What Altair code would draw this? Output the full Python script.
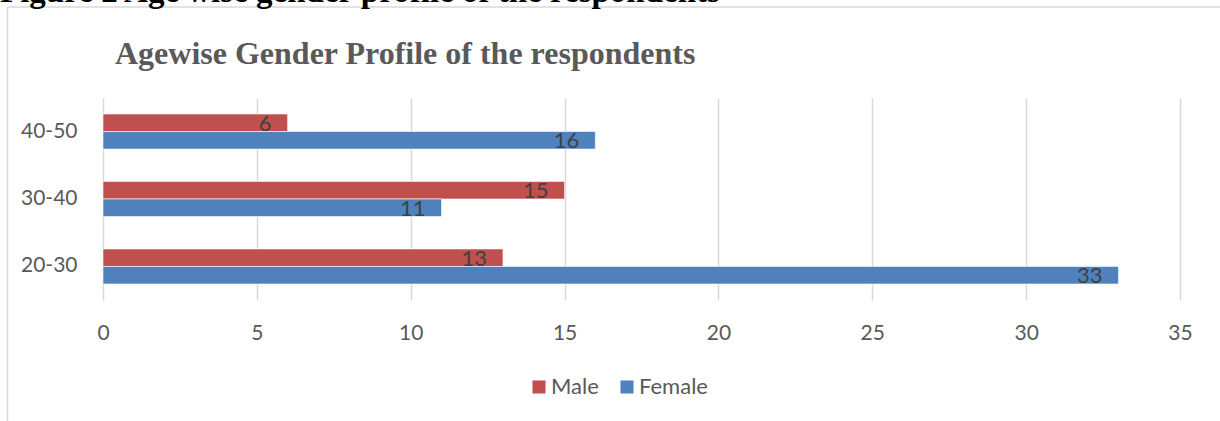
import altair as alt
import pandas as pd

caption = "Figure 2 Age wise gender profile of the respondents"
title = "Agewise Gender Profile of the respondents"
age_groups = ["20-30", "30-40", "40-50"]
male = [13, 15, 6]
female = [33, 11, 16]
series = ["Male", "Female"]
colors = ["#C0504D", "#4F81BD"]
x_ticks = [0, 5, 10, 15, 20, 25, 30, 35]

rows = []
for a, m, f in zip(age_groups, male, female):
    rows.append({"age": a, "gender": "Male", "count": m})
    rows.append({"age": a, "gender": "Female", "count": f})
df = pd.DataFrame(rows)

FONT = "Lato"
y_sort = ["40-50", "30-40", "20-30"]

y_enc = alt.Y("age:N", sort=y_sort,
              scale=alt.Scale(paddingInner=0.48, paddingOuter=0.237),
              axis=alt.Axis(title=None, ticks=False, domain=False, labelPadding=26,
                            labelFontSize=21, labelColor="#595959", labelFont=FONT))
x_enc = alt.X("count:Q", scale=alt.Scale(domain=[0, 35], nice=False),
              axis=alt.Axis(title=None, values=x_ticks, ticks=False, domain=False,
                            grid=True, gridColor="#D9D9D9", gridWidth=1.5,
                            labelFlush=False,
                            labelPadding=22, labelFontSize=21, labelColor="#595959",
                            labelFont=FONT))
yoff = alt.YOffset("gender:N", sort=series, scale=alt.Scale(paddingInner=0, paddingOuter=0))

bars = alt.Chart(df).mark_bar(stroke="white", strokeWidth=0.6).encode(
    y=y_enc, x=x_enc, yOffset=yoff,
    color=alt.Color("gender:N", sort=series,
                    scale=alt.Scale(domain=series, range=colors),
                    legend=alt.Legend(title=None, orient="none", legendX=425, legendY=278,
                                      direction="horizontal", symbolType="square",
                                      symbolSize=170, symbolStrokeWidth=0,
                                      labelFontSize=22, labelColor="#595959",
                                      labelFont=FONT, columnPadding=17, labelOffset=1)),
)

labels = alt.Chart(df).mark_text(align="right", baseline="middle", dx=-16, dy=1,
                                 fontSize=22, font=FONT, color="#404040").encode(
    y=alt.Y("age:N", sort=y_sort), x="count:Q", yOffset=alt.YOffset("gender:N", sort=series),
    text="count:Q",
)

cap_df = pd.DataFrame({"t": [caption]})
cap = alt.Chart(cap_df).mark_text(align="left", baseline="alphabetic", fontSize=33,
                                  font="Liberation Serif", fontWeight="bold",
                                  color="#000000").encode(
    text="t:N", x=alt.value(-103), y=alt.value(-96))

title_df = pd.DataFrame({"t": [title]})
ttl = alt.Chart(title_df).mark_text(align="left", baseline="alphabetic", fontSize=32,
                                    font="Liberation Serif", fontWeight="bold",
                                    color="#595959").encode(
    text="t:N", x=alt.value(12), y=alt.value(-34))

frame_top = alt.Chart(cap_df).mark_rule(color="#D9D9D9", strokeWidth=1.5).encode(
    x=alt.value(-96), x2=alt.value(1117), y=alt.value(-91))
frame_left = alt.Chart(cap_df).mark_rule(color="#D9D9D9", strokeWidth=1.5).encode(
    x=alt.value(-95.5), y=alt.value(-91), y2=alt.value(323))

chart = alt.layer(frame_top, frame_left, cap, ttl, bars, labels).properties(
    width=1077, height=202,
    autosize=alt.AutoSizeParams(type="none"),
    padding={"left": 103, "top": 98, "right": 40, "bottom": 121},
    background="white",
).configure_view(stroke=None)

chart.save("out.html", embed_options={"renderer": "svg", "actions": False})
